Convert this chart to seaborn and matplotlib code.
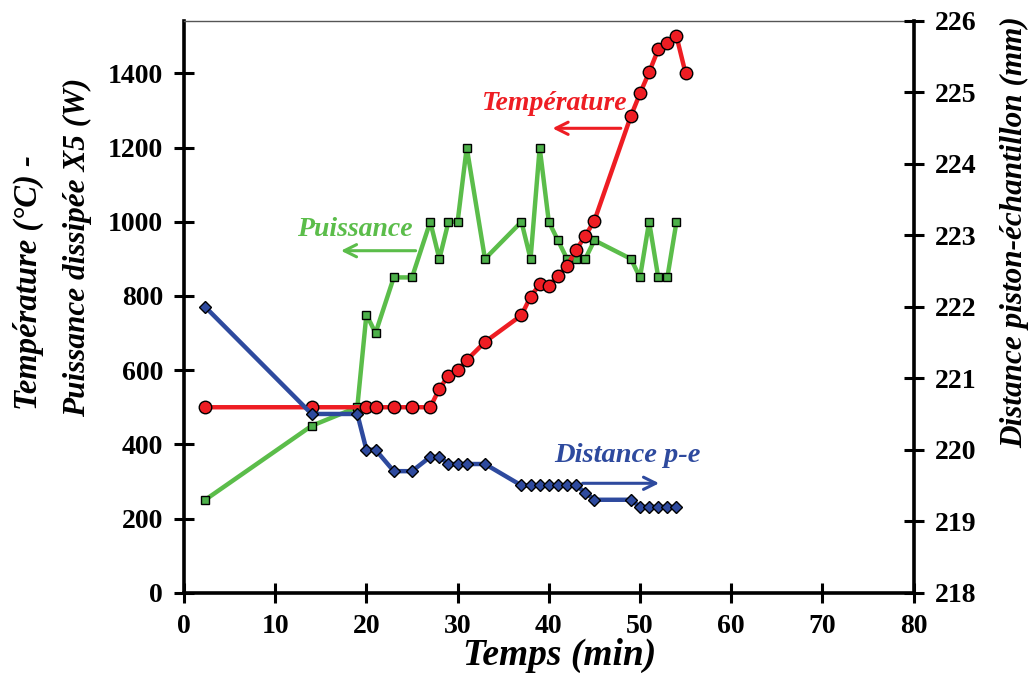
import matplotlib
matplotlib.use("Agg")
import matplotlib.pyplot as plt
import seaborn as sns
import pandas as pd

# ---- data ----
temp_t = [2.3, 14, 20, 21, 23, 25, 27, 28, 29, 30, 31, 33, 37, 38, 39, 40, 41, 42, 43, 44, 45, 49, 50, 51, 52, 53, 54, 55]
temp_v = [500, 500, 500, 500, 500, 500, 500, 550, 585, 600, 627, 676, 748, 798, 831, 827, 855, 881, 924, 962, 1003, 1285, 1346, 1403, 1465, 1483, 1500, 1400]

puis_t = [2.3, 14, 19, 20, 21, 23, 25, 27, 28, 29, 30, 31, 33, 37, 38, 39, 40, 41, 42, 43, 44, 45, 49, 50, 51, 52, 53, 54]
puis_v = [250, 450, 500, 750, 700, 850, 850, 1000, 900, 1000, 1000, 1200, 900, 1000, 900, 1200, 1000, 950, 900, 900, 900, 950, 900, 850, 1000, 850, 850, 1000]

dist_t = [2.3, 14, 19, 20, 21, 23, 25, 27, 28, 29, 30, 31, 33, 37, 38, 39, 40, 41, 42, 43, 44, 45, 49, 50, 51, 52, 53, 54]
dist_v = [222.0, 220.5, 220.5, 220.0, 220.0, 219.7, 219.7, 219.9, 219.9, 219.8, 219.8, 219.8, 219.8, 219.5, 219.5, 219.5, 219.5, 219.5, 219.5, 219.5, 219.4, 219.3, 219.3, 219.2, 219.2, 219.2, 219.2, 219.2]

x_ticks = [0, 10, 20, 30, 40, 50, 60, 70, 80]
left_ticks = [0, 200, 400, 600, 800, 1000, 1200, 1400]
right_ticks = [218, 219, 220, 221, 222, 223, 224, 225, 226]

RED = "#EE1D23"
GREEN = "#5BBD4A"
GREEN_M = "#4DB04A"
BLUE = "#2E4A9E"

sns.set_style("ticks")
plt.rcParams['font.family'] = ['Liberation Serif', 'DejaVu Serif']
plt.rcParams.update({"text.color": "black", "axes.labelcolor": "black",
                     "xtick.color": "black", "ytick.color": "black"})

W, H = 1035, 673
fig = plt.figure(figsize=(W / 100, H / 100), dpi=100)
ax = fig.add_axes([0.1778, 0.1193, 0.7049, 0.8499])
ax2 = ax.twinx()

df_t = pd.DataFrame({"t": temp_t, "v": temp_v})
df_p = pd.DataFrame({"t": puis_t, "v": puis_v})
df_d = pd.DataFrame({"t": dist_t, "v": dist_v})

sns.lineplot(data=df_p, x="t", y="v", ax=ax, color=GREEN, lw=3.2, marker="s",
             markersize=6, markerfacecolor=GREEN_M, markeredgecolor="black",
             markeredgewidth=1.0, sort=False, zorder=3)
sns.lineplot(data=df_t, x="t", y="v", ax=ax, color=RED, lw=3.2, marker="o",
             markersize=9, markerfacecolor=RED, markeredgecolor="black",
             markeredgewidth=1.0, sort=False, zorder=4)
sns.lineplot(data=df_d, x="t", y="v", ax=ax2, color=BLUE, lw=3.2, marker="D",
             markersize=6.5, markerfacecolor=BLUE, markeredgecolor="black",
             markeredgewidth=1.0, sort=False, zorder=3)

ax.set_xlim(0, 80)
ax.set_ylim(0, 1542)
ax2.set_ylim(218, 226)
ax.set_xticks(x_ticks)
ax.set_yticks(left_ticks)
ax2.set_yticks(right_ticks)

tick_font = dict(fontsize=20, fontweight="bold", color="black")
ax.set_xticklabels([str(v) for v in x_ticks], **tick_font)
ax.set_yticklabels([str(v) for v in left_ticks], **tick_font)
ax2.set_yticklabels([str(v) for v in right_ticks], **tick_font)

for a in (ax, ax2):
    a.tick_params(direction="inout", length=14, width=2.2, pad=8,
                  color="black", labelcolor="black")
ax.tick_params(axis="x", pad=8)

for s in ["left", "bottom"]:
    ax.spines[s].set_linewidth(2.6)
    ax.spines[s].set_color("black")
ax.spines["top"].set_visible(True)
ax.spines["top"].set_linewidth(1.0)
ax.spines["top"].set_color("#555555")
ax.spines["right"].set_visible(False)
ax2.spines["right"].set_linewidth(2.6)
ax2.spines["right"].set_color("black")
ax2.spines["top"].set_visible(False)
ax2.spines["left"].set_visible(False)
ax2.spines["bottom"].set_visible(False)

ax.set_xlabel("")
ax.set_ylabel("")
ax2.set_ylabel("")

def fx(px):
    return px / W

def fy(py):
    return 1 - py / H

lab = dict(fontweight="bold", fontstyle="italic", color="black")
fig.text(fx(560), fy(655), "Temps (min)", ha="center", va="center",
         fontsize=27, **lab)
fig.text(fx(28), fy(283), "Température (°C) -", ha="center", va="center",
         rotation=90, fontsize=23.5, **lab)
fig.text(fx(77), fy(247), "Puissance dissipée X5 (W)", ha="center", va="center",
         rotation=90, fontsize=22.5, **lab)
fig.text(fx(1015), fy(232), "Distance piston-échantillon (mm)", ha="center",
         va="center", rotation=90, fontsize=22.5, **lab)

ann_font = dict(fontsize=20, fontweight="bold", fontstyle="italic")
ax.text(40.7, 1320, "Température", color=RED, ha="center", va="center", **ann_font)
ax.annotate("", xy=(40.1, 1252), xytext=(48.2, 1252),
            arrowprops=dict(arrowstyle="->", color=RED, lw=2.2, mutation_scale=22))
ax.text(18.75, 979, "Puissance", color=GREEN, ha="center", va="center", **ann_font)
ax.annotate("", xy=(16.9, 922), xytext=(25.7, 922),
            arrowprops=dict(arrowstyle="->", color=GREEN, lw=2.2, mutation_scale=22))
ax.text(48.6, 371, "Distance p-e", color=BLUE, ha="center", va="center",
        fontsize=20.5, fontweight="bold", fontstyle="italic")
ax.annotate("", xy=(52.4, 295), xytext=(43.4, 295),
            arrowprops=dict(arrowstyle="->", color=BLUE, lw=2.2, mutation_scale=22))

fig.savefig("out.png", dpi=100)
